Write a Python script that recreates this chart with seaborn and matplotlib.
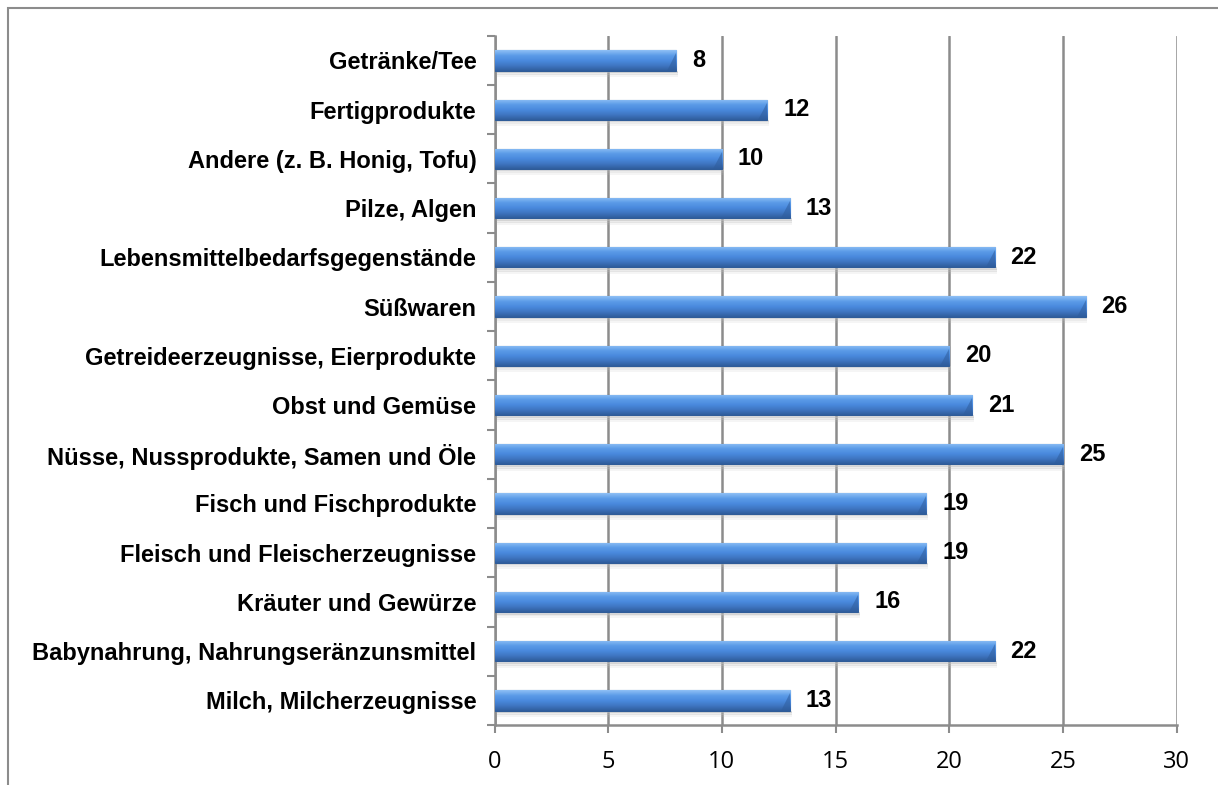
"""
Horizontal bar chart of food categories (Excel-style bevelled bars)
"""
import numpy as np
import pandas as pd
import matplotlib
matplotlib.use('Agg')
import matplotlib.pyplot as plt
import seaborn as sns
from matplotlib.colors import LinearSegmentedColormap
from matplotlib.patches import Rectangle

categories = [
    'Getränke/Tee',
    'Fertigprodukte',
    'Andere (z. B. Honig, Tofu)',
    'Pilze, Algen',
    'Lebensmittelbedarfsgegenstände',
    'Süßwaren',
    'Getreideerzeugnisse, Eierprodukte',
    'Obst und Gemüse',
    'Nüsse, Nussprodukte, Samen und Öle',
    'Fisch und Fischprodukte',
    'Fleisch und Fleischerzeugnisse',
    'Kräuter und Gewürze',
    'Babynahrung, Nahrungseränzunsmittel',
    'Milch, Milcherzeugnisse',
]
values = [8, 12, 10, 13, 22, 26, 20, 21, 25, 19, 19, 16, 22, 13]
x_ticks = [0, 5, 10, 15, 20, 25, 30]

df = pd.DataFrame({'Kategorie': categories, 'Anzahl': values})

sns.set_style('white')
plt.rcParams['font.family'] = ['Liberation Sans', 'DejaVu Sans']
plt.rcParams['text.color'] = 'black'
plt.rcParams['xtick.labelcolor'] = 'black'
plt.rcParams['ytick.labelcolor'] = 'black'

fig = plt.figure(figsize=(12.18, 7.85), dpi=100)
ax = fig.add_axes([0.406, 0.0764, 0.560, 0.878])

# outer chart frame (clipped by the image edge on right/bottom)
fig.patches.append(Rectangle((8 / 1218, -0.05), 1.1, (785 - 8) / 785 + 0.05,
                             transform=fig.transFigure, fill=False,
                             edgecolor='#8c8c8c', linewidth=1.5, zorder=0))

sns.barplot(data=df, x='Anzahl', y='Kategorie', orient='h', width=0.41,
            color='#4a86d4', ax=ax, zorder=3)

# gradient + shadow on each bar
grad = LinearSegmentedColormap.from_list(
    'bevel', ['#8fc0f5', '#5c9ce8', '#4a8ade', '#3f76c2', '#2f5d9c'])
gimg = np.linspace(0, 1, 64).reshape(-1, 1)
for p in ax.patches:
    x0, y0 = p.get_x(), p.get_y()
    w, h = p.get_width(), p.get_height()
    for k, a in enumerate([0.5, 0.3, 0.15]):
        ax.add_patch(Rectangle((x0, y0 + h + 0.04 * k), w + 0.08, 0.05,
                               facecolor='#bfbfbf', edgecolor='none',
                               zorder=2, alpha=a))
    im = ax.imshow(gimg, cmap=grad, aspect='auto',
                   extent=(x0, x0 + w, y0 + h, y0), zorder=4)
    im.set_clip_path(p)
    # bevel on the right end
    ax.fill([x0 + w, x0 + w, x0 + w - 0.4], [y0 + h * 0.15, y0 + h, y0 + h],
            color='#2f5d9c', alpha=0.55, zorder=4.5, lw=0)
    p.set_edgecolor('#2f5c98')
    p.set_linewidth(0.8)
    ax.text(x0 + w + 0.7, y0 + h / 2, f'{int(w)}', va='center', ha='left',
            fontsize=17, fontweight='bold', color='black', zorder=5)

ax.set_xlim(0, 30)
ax.set_ylim(len(categories) - 0.5, -0.5)
ax.set_xticks(x_ticks)
ax.set_xticklabels([str(t) for t in x_ticks], fontsize=17,
                   family=['Open Sans', 'DejaVu Sans'])
ax.set_xlabel('')
ax.set_ylabel('')
ax.tick_params(axis='y', length=0, pad=13, labelsize=17)
for lab in ax.get_yticklabels():
    lab.set_fontweight('bold')

ax.set_yticks(np.arange(-0.5, len(categories), 1), minor=True)
ax.tick_params(axis='y', which='minor', length=6, width=1.5, color='#8c8c8c',
               direction='out', left=True)
ax.tick_params(axis='x', length=6, width=1.5, color='#8c8c8c',
               direction='out', bottom=True, pad=12)

ax.grid(axis='x', color='#8c8c8c', linewidth=1.8)
ax.set_axisbelow(True)
for side in ['top', 'right']:
    ax.spines[side].set_visible(False)
for side in ['left', 'bottom']:
    ax.spines[side].set_color('#8c8c8c')
    ax.spines[side].set_linewidth(1.8)

plt.savefig('out.png', dpi=100, facecolor='white')
